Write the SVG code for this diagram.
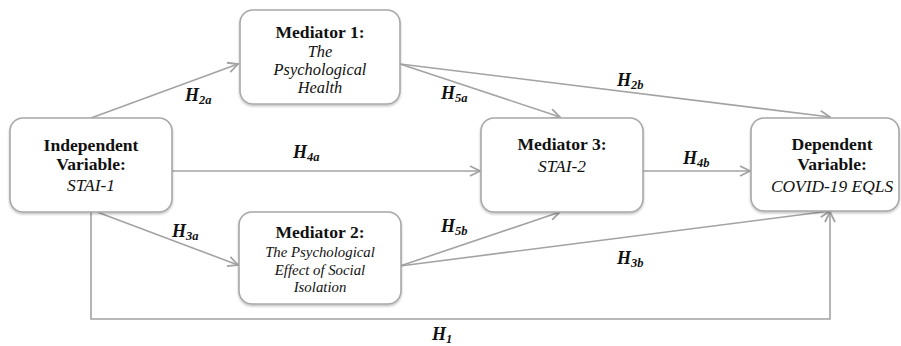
<svg xmlns="http://www.w3.org/2000/svg" width="901" height="346" viewBox="0 0 901 346">
<style>
.box{fill:#fff;stroke:#a8a8a8;stroke-width:1.6}
.t{font-family:'Liberation Serif','DejaVu Serif',serif;text-anchor:middle;fill:#111}
.b{font-weight:bold;font-size:17.6px}
.i{font-style:italic;font-size:17.4px}
.i2{font-style:italic;font-size:16.4px}
.i3{font-style:italic;font-size:14.8px}
.c{fill:none;stroke:#a3a3a3;stroke-width:1.6}
.h{font-family:'Liberation Serif','DejaVu Serif',serif;font-weight:bold;font-style:italic;font-size:18px;fill:#111}
.s{font-size:12.5px}
</style>
<defs>
<marker id="arr" viewBox="0 0 12 12" refX="11" refY="6" markerWidth="12" markerHeight="12" markerUnits="userSpaceOnUse" orient="auto">
<path d="M1,1 L11,6 L1,11" fill="none" stroke="#a3a3a3" stroke-width="1.8"/>
</marker>
<filter id="sh" x="-10%" y="-10%" width="120%" height="130%">
<feDropShadow dx="0" dy="1.5" stdDeviation="1.2" flood-color="#000" flood-opacity="0.25"/>
</filter>
</defs>
<g id="connectors">
<line class="c" x1="91" y1="118" x2="238" y2="64" marker-end="url(#arr)"/>
<line class="c" x1="172" y1="171" x2="480" y2="171" marker-end="url(#arr)"/>
<line class="c" x1="400" y1="64" x2="560" y2="117" marker-end="url(#arr)"/>
<line class="c" x1="400" y1="64" x2="830" y2="117" marker-end="url(#arr)"/>
<line class="c" x1="643" y1="171" x2="750" y2="171" marker-end="url(#arr)"/>
<line class="c" x1="97" y1="212" x2="238" y2="265" marker-end="url(#arr)"/>
<line class="c" x1="400" y1="266" x2="560" y2="212" marker-end="url(#arr)"/>
<line class="c" x1="400" y1="266" x2="830" y2="211" marker-end="url(#arr)"/>
<polyline class="c" points="91,212 91,319 830,319 830,212" marker-end="url(#arr)"/>
<text class="h" x="185" y="101">H<tspan class="s" dy="3">2a</tspan></text>
<text class="h" x="293" y="158">H<tspan class="s" dy="3">4a</tspan></text>
<text class="h" x="441" y="99">H<tspan class="s" dy="3">5a</tspan></text>
<text class="h" x="617" y="86">H<tspan class="s" dy="3">2b</tspan></text>
<text class="h" x="683" y="164">H<tspan class="s" dy="3">4b</tspan></text>
<text class="h" x="172" y="237">H<tspan class="s" dy="3">3a</tspan></text>
<text class="h" x="441" y="232">H<tspan class="s" dy="3">5b</tspan></text>
<text class="h" x="617" y="264">H<tspan class="s" dy="3">3b</tspan></text>
<text class="h" x="432" y="340">H<tspan class="s" dy="3">1</tspan></text>
</g>
<g id="independent">
<rect class="box" x="10" y="118" width="162" height="94" rx="13" filter="url(#sh)"/>
<text class="t b" x="91" y="151">Independent</text>
<text class="t b" x="91" y="170">Variable:</text>
<text class="t i" x="91" y="191">STAI-1</text>
</g>
<g id="mediator1">
<rect class="box" x="240" y="10" width="160" height="94" rx="13" filter="url(#sh)"/>
<text class="t b" x="320" y="38">Mediator 1:</text>
<text class="t i2" x="320" y="57">The</text>
<text class="t i2" x="320" y="75">Psychological</text>
<text class="t i2" x="320" y="93">Health</text>
</g>
<g id="mediator2">
<rect class="box" x="239" y="212" width="162" height="92" rx="13" filter="url(#sh)"/>
<text class="t b" x="320" y="238">Mediator 2:</text>
<text class="t i3" x="320" y="257">The Psychological</text>
<text class="t i3" x="320" y="275">Effect of Social</text>
<text class="t i3" x="320" y="292">Isolation</text>
</g>
<g id="mediator3">
<rect class="box" x="481" y="118" width="162" height="94" rx="13" filter="url(#sh)"/>
<text class="t b" x="562" y="150">Mediator 3:</text>
<text class="t i" x="562" y="172">STAI-2</text>
</g>
<g id="dependent">
<rect class="box" x="751" y="118" width="148" height="93" rx="13" filter="url(#sh)"/>
<text class="t b" x="832" y="150">Dependent</text>
<text class="t b" x="832" y="170">Variable:</text>
<text class="t i" x="832" y="192">COVID-19 EQLS</text>
</g>
</svg>
